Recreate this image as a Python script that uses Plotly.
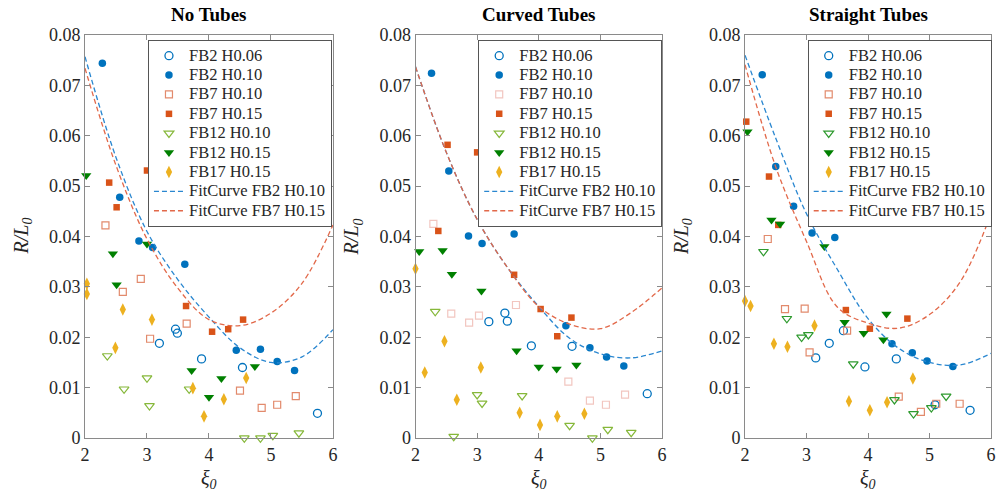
import plotly.graph_objects as go

# ---------------- data ----------------
panel_titles = ["No Tubes", "Curved Tubes", "Straight Tubes"]
series_names = ["FB2 H0.06", "FB2 H0.10", "FB7 H0.10", "FB7 H0.15",
                "FB12 H0.10", "FB12 H0.15", "FB17 H0.15"]
fit_names = ["FitCurve FB2 H0.10", "FitCurve FB7 H0.15"]
x_ticks = [2, 3, 4, 5, 6]

# --- No Tubes ---
nt_fb2_h006_x = [3.46, 3.49, 3.20, 3.88, 4.54, 5.75]
nt_fb2_h006_y = [0.0216, 0.0208, 0.0188, 0.0157, 0.0140, 0.0049]
nt_fb2_h010_x = [2.28, 2.56, 2.87, 3.09, 3.61, 4.44, 4.83, 5.10, 5.38]
nt_fb2_h010_y = [0.0744, 0.0478, 0.0391, 0.0378, 0.0345, 0.0174, 0.0176, 0.0152, 0.0134]
nt_fb7_h010_x = [2.33, 2.90, 2.61, 3.64, 3.05, 4.50, 5.40, 5.10, 4.85]
nt_fb7_h010_y = [0.0422, 0.0316, 0.0290, 0.0227, 0.0197, 0.0094, 0.0083, 0.0066, 0.0060]
nt_fb7_h015_x = [2.39, 3.00, 2.51, 3.63, 4.05, 4.31, 4.55]
nt_fb7_h015_y = [0.0507, 0.0531, 0.0458, 0.0262, 0.0211, 0.0216, 0.0235]
nt_fb12_h010_x = [2.36, 3.00, 2.63, 3.68, 3.04, 5.45, 5.03, 4.83, 4.57]
nt_fb12_h010_y = [0.0163, 0.0119, 0.0097, 0.0097, 0.0064, 0.0010, 0.0005, 0.0, 0.0]
nt_fb12_h015_x = [2.02, 3.00, 2.45, 2.51, 4.74, 3.72, 4.20, 4.00]
nt_fb12_h015_y = [0.0521, 0.0385, 0.0366, 0.0304, 0.0142, 0.0134, 0.0118, 0.0081]
nt_fb17_h015_x = [2.03, 2.03, 2.61, 3.08, 2.49, 4.60, 3.74, 4.24, 3.92]
nt_fb17_h015_y = [0.0306, 0.0286, 0.0255, 0.0235, 0.0179, 0.0119, 0.0099, 0.0077, 0.0043]
nt_fit_x = [2, 2.5, 3, 3.5, 4, 4.5, 5, 5.5, 6]
nt_fit_fb2_y = [0.0757, 0.0557, 0.0410, 0.0314, 0.0240, 0.0179, 0.0150, 0.0161, 0.0215]
nt_fit_fb7_y = [0.0734, 0.0541, 0.0395, 0.0297, 0.0235, 0.0223, 0.0248, 0.0307, 0.0423]

# --- Curved Tubes ---
ct_fb2_h006_x = [3.45, 3.19, 3.49, 3.88, 4.54, 5.76]
ct_fb2_h006_y = [0.0248, 0.0231, 0.0232, 0.0183, 0.0182, 0.0088]
ct_fb2_h010_x = [2.26, 2.54, 2.86, 3.60, 3.08, 4.44, 4.83, 5.10, 5.38]
ct_fb2_h010_y = [0.0724, 0.0530, 0.0401, 0.0405, 0.0386, 0.0223, 0.0179, 0.0161, 0.0143]
ct_fb7_h010_x = [2.29, 3.63, 2.58, 3.03, 2.87, 4.48, 5.40, 4.83, 5.09]
ct_fb7_h010_y = [0.0425, 0.0264, 0.0247, 0.0243, 0.0229, 0.0112, 0.0086, 0.0074, 0.0066]
ct_fb7_h015_x = [2.52, 3.00, 2.37, 3.60, 4.03, 4.53, 4.30]
ct_fb7_h015_y = [0.0582, 0.0567, 0.0411, 0.0324, 0.0256, 0.0239, 0.0202]
ct_fb12_h010_x = [2.32, 3.00, 3.73, 3.08, 4.50, 5.12, 5.50, 2.62, 4.87]
ct_fb12_h010_y = [0.0251, 0.0086, 0.0084, 0.0069, 0.0025, 0.0017, 0.0011, 0.0003, 0.0]
ct_fb12_h015_x = [2.06, 2.44, 2.59, 3.07, 3.64, 4.00, 4.29, 4.61]
ct_fb12_h015_y = [0.0370, 0.0372, 0.0325, 0.0292, 0.0173, 0.0141, 0.0137, 0.0145]
ct_fb17_h015_x = [2.00, 2.47, 2.15, 3.06, 2.67, 3.69, 4.30, 4.74, 4.02]
ct_fb17_h015_y = [0.0336, 0.0192, 0.0130, 0.0140, 0.0076, 0.0050, 0.0043, 0.0048, 0.0026]
ct_fit_x = [2, 2.5, 3, 3.5, 4, 4.5, 5, 5.5, 6]
ct_fit_fb2_y = [0.0737, 0.0567, 0.0434, 0.0337, 0.0261, 0.0198, 0.0167, 0.0159, 0.0173]
ct_fit_fb7_y = [0.0737, 0.0567, 0.0434, 0.0337, 0.0261, 0.0226, 0.0217, 0.0249, 0.0298]

# --- Straight Tubes ---
st_fb2_h006_x = [3.60, 3.37, 3.15, 4.46, 3.95, 5.09, 5.66]
st_fb2_h006_y = [0.0213, 0.0188, 0.0159, 0.0157, 0.0141, 0.0066, 0.0055]
st_fb2_h010_x = [2.28, 2.50, 2.79, 3.09, 3.46, 4.39, 4.72, 4.96, 5.38]
st_fb2_h010_y = [0.0721, 0.0539, 0.0460, 0.0407, 0.0398, 0.0187, 0.0169, 0.0153, 0.0142]
st_fb7_h010_x = [2.37, 2.65, 2.97, 3.66, 3.05, 4.50, 5.49, 4.86, 5.11]
st_fb7_h010_y = [0.0395, 0.0256, 0.0257, 0.0213, 0.0170, 0.0082, 0.0068, 0.0052, 0.0068]
st_fb7_h015_x = [2.02, 2.39, 2.54, 3.64, 4.03, 4.64]
st_fb7_h015_y = [0.0628, 0.0519, 0.0423, 0.0254, 0.0217, 0.0237]
st_fb12_h010_x = [2.30, 2.68, 2.92, 3.03, 3.76, 4.43, 5.27, 5.03, 4.74]
st_fb12_h010_y = [0.0370, 0.0237, 0.0200, 0.0205, 0.0147, 0.0076, 0.0083, 0.0060, 0.0048]
st_fb12_h015_x = [2.04, 2.43, 2.57, 3.29, 4.30, 3.62, 3.93, 4.25]
st_fb12_h015_y = [0.0608, 0.0433, 0.0425, 0.0380, 0.0246, 0.0230, 0.0208, 0.0195]
st_fb17_h015_x = [2.00, 2.09, 3.13, 2.47, 2.69, 4.73, 3.69, 4.31, 4.03]
st_fb17_h015_y = [0.0272, 0.0262, 0.0223, 0.0187, 0.0181, 0.0118, 0.0073, 0.0071, 0.0055]
st_fit_x = [2, 2.5, 3, 3.5, 4, 4.5, 5, 5.5, 6]
st_fit_fb2_y = [0.0760, 0.0595, 0.0445, 0.0335, 0.0237, 0.0178, 0.0150, 0.0145, 0.0168]
st_fit_fb7_y = [0.0741, 0.0538, 0.0390, 0.0260, 0.0228, 0.0218, 0.0245, 0.0310, 0.0445]

panels = [
    dict(series=[(nt_fb2_h006_x, nt_fb2_h006_y), (nt_fb2_h010_x, nt_fb2_h010_y),
                 (nt_fb7_h010_x, nt_fb7_h010_y), (nt_fb7_h015_x, nt_fb7_h015_y),
                 (nt_fb12_h010_x, nt_fb12_h010_y), (nt_fb12_h015_x, nt_fb12_h015_y),
                 (nt_fb17_h015_x, nt_fb17_h015_y)],
         fit_x=nt_fit_x, fits=[nt_fit_fb2_y, nt_fit_fb7_y]),
    dict(series=[(ct_fb2_h006_x, ct_fb2_h006_y), (ct_fb2_h010_x, ct_fb2_h010_y),
                 (ct_fb7_h010_x, ct_fb7_h010_y), (ct_fb7_h015_x, ct_fb7_h015_y),
                 (ct_fb12_h010_x, ct_fb12_h010_y), (ct_fb12_h015_x, ct_fb12_h015_y),
                 (ct_fb17_h015_x, ct_fb17_h015_y)],
         fit_x=ct_fit_x, fits=[ct_fit_fb2_y, ct_fit_fb7_y]),
    dict(series=[(st_fb2_h006_x, st_fb2_h006_y), (st_fb2_h010_x, st_fb2_h010_y),
                 (st_fb7_h010_x, st_fb7_h010_y), (st_fb7_h015_x, st_fb7_h015_y),
                 (st_fb12_h010_x, st_fb12_h010_y), (st_fb12_h015_x, st_fb12_h015_y),
                 (st_fb17_h015_x, st_fb17_h015_y)],
         fit_x=st_fit_x, fits=[st_fit_fb2_y, st_fit_fb7_y]),
]

# ---------------- styles ----------------
BLUE = "#0072BD"
ORANGE = "#D95319"
YELLOW = "#EDB120"
DKGREEN = "#008000"
open_sq_colors = ["#E28A6C", "#F2C6C0", "#E28A6C"]
open_tri_colors = ["#86B83A", "#86B83A", "#2E9A2E"]

def marker_styles(p):
    return [
        dict(symbol="circle-open", size=8, color=BLUE, line=dict(width=1.3, color=BLUE)),
        dict(symbol="circle", size=7.5, color=BLUE, line=dict(width=0)),
        dict(symbol="square-open", size=7, color=open_sq_colors[p], line=dict(width=1.2, color=open_sq_colors[p])),
        dict(symbol="square", size=6.5, color=ORANGE, line=dict(width=0)),
        dict(symbol="triangle-down-open", size=8.5, color=open_tri_colors[p], line=dict(width=1.2, color=open_tri_colors[p])),
        dict(symbol="triangle-down", size=9, color=DKGREEN, line=dict(width=0)),
        dict(symbol="diamond-tall", size=9, color=YELLOW, line=dict(width=0)),
    ]

fit_colors = ["#2A87D0", "#E2694A"]
FONT = "Liberation Serif, Times New Roman, serif"

def legend_label(s):
    # the legend row height follows the legend font size; the label itself is drawn larger
    return '<span style="font-size:16.5px">' + s + '</span>'

fig = go.Figure()
domains = [[0.0, 0.2737], [0.3648, 0.6369], [0.7285, 1.0]]
legend_x = [0.0695, 0.434, 0.7977]
legend_keys = ["legend", "legend2", "legend3"]

for p, panel in enumerate(panels):
    xa = "x" if p == 0 else f"x{p+1}"
    ya = "y" if p == 0 else f"y{p+1}"
    styles = marker_styles(p)
    for i, (sx, sy) in enumerate(panel["series"]):
        fig.add_trace(go.Scatter(
            x=sx, y=sy, mode="markers", name=legend_label(series_names[i]),
            marker=styles[i], xaxis=xa, yaxis=ya, cliponaxis=False,
            legend=legend_keys[p]))
    for j, fy in enumerate(panel["fits"]):
        fig.add_trace(go.Scatter(
            x=panel["fit_x"], y=fy, mode="lines", name=legend_label(fit_names[j]),
            line=dict(color=fit_colors[j], width=1.3, dash="5px,3px", shape="spline", smoothing=1.0),
            xaxis=xa, yaxis=ya, legend=legend_keys[p]))

axis_common = dict(showline=True, linecolor="#8a8a8a", linewidth=1, mirror="ticks",
                   ticks="inside", ticklen=5, tickcolor="#8a8a8a", showgrid=False,
                   zeroline=False, tickfont=dict(family=FONT, size=18, color="#262626"))

layout = dict(
    width=1003, height=497, plot_bgcolor="white", paper_bgcolor="white",
    margin=dict(l=85, r=12, t=35, b=59, autoexpand=False),
    font=dict(family=FONT, color="#262626"),
    showlegend=True,
)
for p in range(3):
    sx = "" if p == 0 else str(p + 1)
    layout[f"xaxis{sx}"] = dict(axis_common, domain=domains[p], range=[2, 6],
                                tickvals=x_ticks, anchor=f"y{sx}")
    layout[f"yaxis{sx}"] = dict(axis_common, range=[0, 0.08], dtick=0.01,
                                anchor=f"x{sx}", domain=[0, 1])
    layout[legend_keys[p]] = dict(x=legend_x[p], y=0.9876, xanchor="left", yanchor="top",
                                  bgcolor="white", bordercolor="#555555", borderwidth=1,
                                  font=dict(family=FONT, size=12.6, color="#262626"),
                                  tracegroupgap=0, itemwidth=30)
fig.update_layout(**layout)

ann = []
for p in range(3):
    xd = "x domain" if p == 0 else f"x{p+1} domain"
    ann.append(dict(text="<b>" + panel_titles[p] + "</b>", xref=xd, yref="paper",
                    x=0.5, y=1.052, showarrow=False, xanchor="center", yanchor="middle",
                    font=dict(family=FONT, size=19, color="#000000")))
    ann.append(dict(text="<i>ξ</i><sub><i>0</i></sub>", xref=xd, yref="paper",
                    x=0.5, y=-0.103, showarrow=False, xanchor="center", yanchor="middle",
                    font=dict(family=FONT, size=20, color="#262626")))
    ann.append(dict(text="<i>R/L</i><sub><i>0</i></sub>", xref=xd, yref="paper",
                    x=-0.254, y=0.5, showarrow=False, xanchor="center", yanchor="middle",
                    textangle=-90, font=dict(family=FONT, size=20, color="#262626")))
fig.update_layout(annotations=ann)

fig.write_html("out.html")
